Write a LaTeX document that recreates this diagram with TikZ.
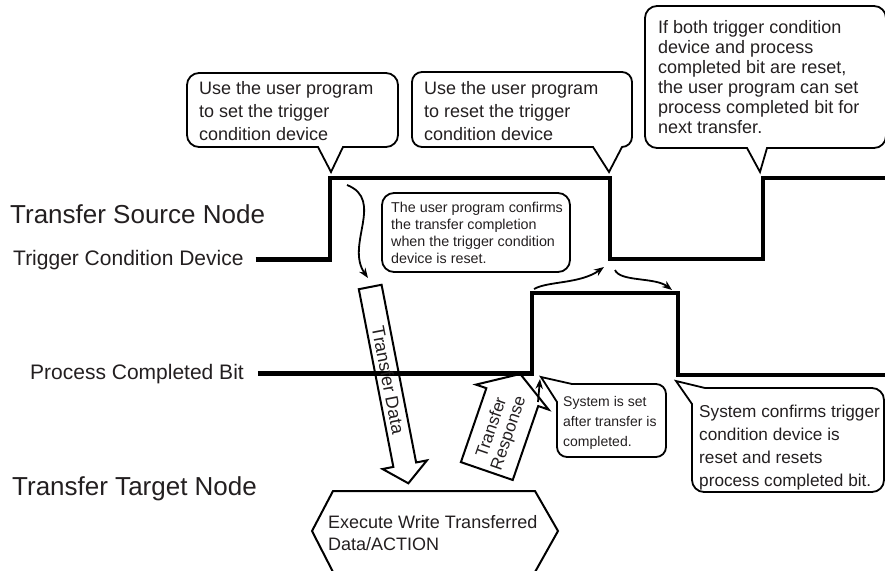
\documentclass[tikz,border=0pt]{standalone}
\usepackage{fontspec}
\setmainfont{Liberation Sans}
\usetikzlibrary{arrows.meta,shapes.arrows}
\definecolor{ink}{RGB}{35,31,32}
\newcommand{\fs}[2]{\fontsize{#1}{#2}\selectfont}

\begin{document}
\begin{tikzpicture}[x=1pt,y=-1pt,
  wave/.style={line width=4.5pt},
  bubble/.style={line width=1.8pt},
  flow/.style={line width=1.8pt,-{Stealth[length=10pt,width=7.5pt]}},
  note/.style={inner sep=0pt,anchor=north west,align=left,text=ink},
  lane/.style={inner sep=0pt,anchor=base west,text=ink},
  fat/.style={draw,line width=2pt,single arrow,single arrow head extend=11pt,text=ink,anchor=tail}]
\useasboundingbox (0,0) rectangle (885,570);
% lane names
\node[lane,font=\fs{26}{30}] (src) at (10,223) {Transfer Source Node};
\node[lane,font=\fs{21}{25}] (tcd) at (13,265) {Trigger Condition Device};
\node[lane,font=\fs{21}{25}] (pcb) at (30,379) {Process Completed Bit};
\node[lane,font=\fs{26}{30}] (tgt) at (12,495) {Transfer Target Node};
% signal edges
\coordinate (tcUp) at (330,178);
\coordinate (tcDown) at (610,259);
\coordinate (tcUp2) at (763,178);
\coordinate (pcUp) at (532,293);
\coordinate (pcDown) at (678,375);
\draw[wave] ([xshift=12pt]tcd.east) -| (tcUp) -| (tcDown) -| (tcUp2) -- ++(130,0);
\draw[wave] ([xshift=14pt]pcb.east) -| (pcUp) -| (pcDown) -- ++(210,0);
% callouts
\node[note,font=\fs{18}{23}] (setTxt) at (199,81) {Use the user program\\to set the trigger\\condition device};
\draw[bubble] (331,172) -- (318,147) [rounded corners=12pt] -- (187,147) -- (187,73) -- (398,73) -- (398,147) [sharp corners] -- (343,147) -- cycle;
\node[note,font=\fs{18}{23}] (resetTxt) at (424,81) {Use the user program\\to reset the trigger\\condition device};
\draw[bubble] (609,172) -- (593,147) [rounded corners=10pt] -- (412,147) -- (412,72) -- (632,72) -- (632,147) [sharp corners] -- (622,147) -- cycle;
\node[note,font=\fs{18}{20}] (nextTxt) at (658,20) {If both trigger condition\\device and process\\completed bit are reset,\\the user program can set\\process completed bit for\\next transfer.};
\draw[bubble] (760,172) -- (747,148) [rounded corners=12pt] -- (645,148) -- (645,6) -- (886,6) -- (886,148) [sharp corners] -- (767,148) -- cycle;
\node[note,font=\fs{14.3}{17}] (confirmTxt) at (391,201.6) {The user program confirms\\the transfer completion\\when the trigger condition\\device is reset.};
\draw[bubble,rounded corners=12pt] (382,193) rectangle (570,272);
\node[note,font=\fs{14}{20}] (sysSetTxt) at (563,396.5) {System is set\\after transfer is\\completed.};
\draw[bubble] (541,377) -- (572,384) [rounded corners=10pt] -- (666,384) -- (666,457) -- (557,457) [sharp corners] -- (557,402) -- cycle;
\node[note,font=\fs{17.2}{23}] (sysResetTxt) at (699,405) {System confirms trigger\\condition device is\\reset and resets\\process completed bit.};
\draw[bubble] (676,381) -- (705,388) [rounded corners=12pt] -- (884,388) -- (884,492) -- (692,492) [sharp corners] -- (692,404) -- cycle;
% transfer arrows
\node[fat,font=\fs{18}{20},rotate=-79,minimum height=200pt,inner ysep=4pt,single arrow tip angle=100] (xfer) at (370,286) {Transfer Data};
\node[fat,font=\fs{17}{18},align=center,rotate=71,minimum height=99pt,inner ysep=9.5pt,single arrow tip angle=115] (resp) at (486.5,472) {Transfer\\Response};
% target action
\node[note,font=\fs{18}{22}] (exec) at (328,515) {Execute Write Transferred\\Data/ACTION};
\draw[bubble,line width=2pt] (312,531) -- (333,491) -- (535,491) -- (558,531) -- (535,572) -- (333,572) -- cycle;
% handshake arrows
\coordinate (sendFrom) at (347,185);
\coordinate (sendTo) at (368,278);
\coordinate (doneFrom) at (534,289);
\coordinate (doneTo) at (604,267);
\coordinate (clrFrom) at (615,270);
\coordinate (clrTo) at (672,290);
\coordinate (setFrom) at (538,402);
\coordinate (setTo) at (540,379);
\draw[flow] (sendFrom) .. controls (385,200) and (345,245) .. (sendTo);
\draw[flow] (doneFrom) .. controls (548,281) and (580,284) .. (doneTo);
\draw[flow] (clrFrom) .. controls (620,282) and (655,277) .. (clrTo);
\draw[flow] (setFrom) -- (setTo);
\end{tikzpicture}
\end{document}
